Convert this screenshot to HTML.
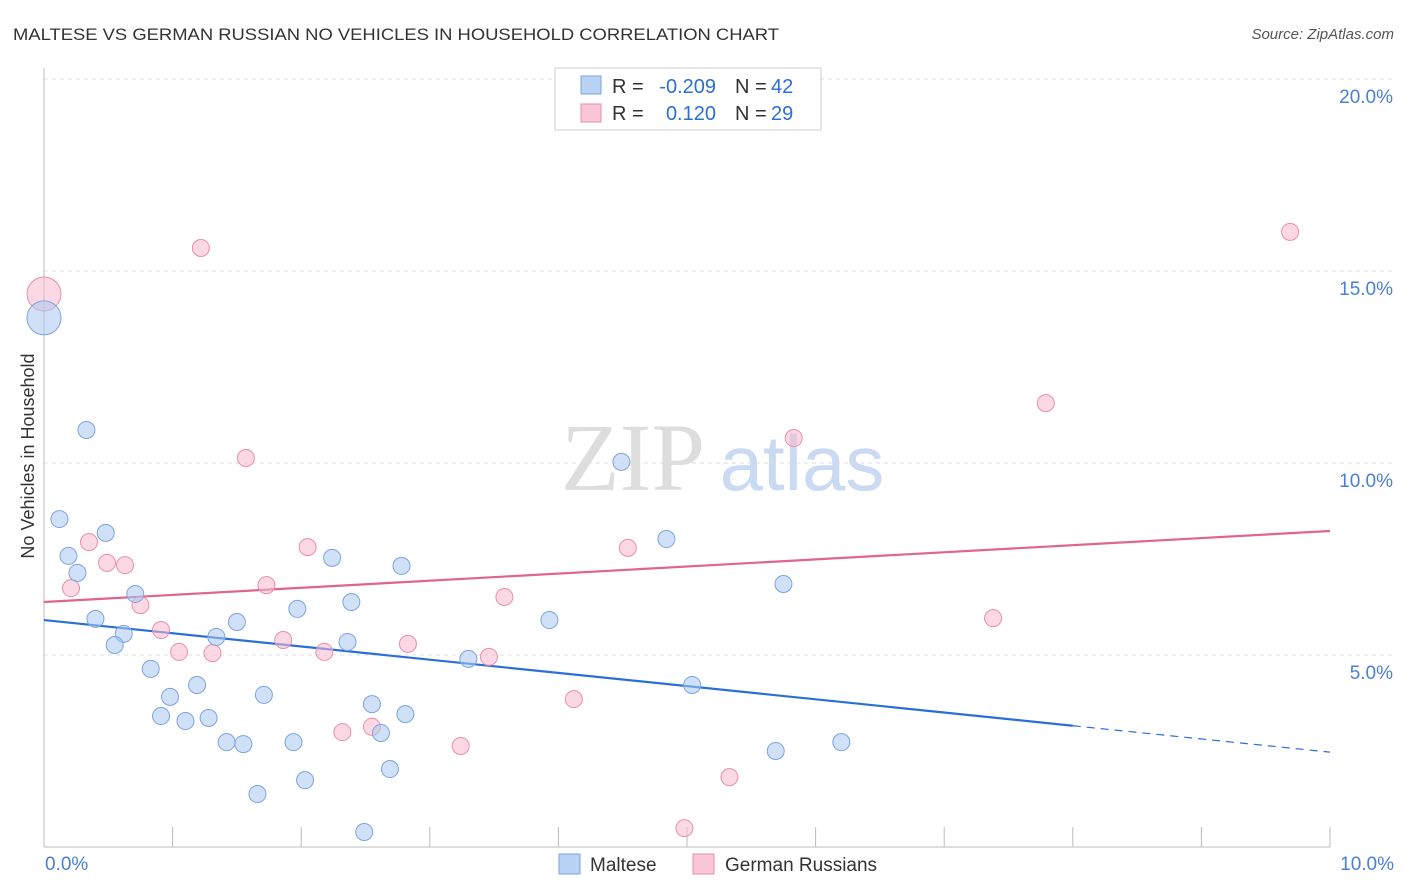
<!DOCTYPE html>
<html><head><meta charset="utf-8"><style>
body{margin:0;background:#fff;font-family:"Liberation Sans",sans-serif;}
svg{display:block}
</style></head><body>
<svg width="1406" height="892" viewBox="0 0 1406 892" xmlns="http://www.w3.org/2000/svg" font-family="Liberation Sans, sans-serif">
<text x="13" y="40" font-size="17" fill="#333" textLength="766" lengthAdjust="spacingAndGlyphs">MALTESE VS GERMAN RUSSIAN NO VEHICLES IN HOUSEHOLD CORRELATION CHART</text>
<text x="1394" y="39" font-size="15" fill="#555" text-anchor="end" font-style="italic">Source: ZipAtlas.com</text>
<g>
<text x="633" y="490" font-size="96" fill="#ddd" text-anchor="middle" font-family="Liberation Serif, serif">ZIP</text>
<text x="802" y="490" font-size="78" fill="#c9daf2" text-anchor="middle">atlas</text>
</g>
<g id="grid"></g>
<g id="axes"></g>
<g id="lines"></g>
<g id="points"></g>
<text transform="translate(34,456) rotate(-90)" font-size="18" fill="#333" text-anchor="middle">No Vehicles in Household</text>
<g font-size="20">
<rect x="555" y="68" width="266" height="62" fill="#fff" stroke="#ccc"/>
<rect x="581" y="76" width="20" height="18" fill="#b9d3f5" stroke="#7ba4e0"/>
<rect x="581" y="104" width="20" height="18" fill="#f9c6d5" stroke="#e88fab"/>
<text x="612" y="93" fill="#333">R =</text>
<text x="716" y="93" fill="#2a6fd6" text-anchor="end">-0.209</text>
<text x="735" y="93" fill="#333">N =</text>
<text x="771" y="93" fill="#2a6fd6">42</text>
<text x="612" y="120" fill="#333">R =</text>
<text x="716" y="120" fill="#2a6fd6" text-anchor="end">0.120</text>
<text x="735" y="120" fill="#333">N =</text>
<text x="771" y="120" fill="#2a6fd6">29</text>
</g>
<g>
<rect x="559" y="854" width="21" height="20" fill="#b9d3f5" stroke="#7ba4e0"/>
<text x="590" y="871" font-size="19" fill="#333">Maltese</text>
<rect x="693" y="854" width="21" height="20" fill="#f9c6d5" stroke="#e88fab"/>
<text x="725" y="871" font-size="19" fill="#333">German Russians</text>
</g>
</svg>
<script>
const xTicks=[0,1,2,3,4,5,6,7,8,9,10];
const yTicks=[5,10,15,20];
const maltX=[0,0.33,0.12,0.19,0.26,0.48,0.40,0.62,0.55,0.71,0.83,0.98,0.91,1.10,1.19,1.28,1.34,1.50,1.42,1.55,1.66,1.71,1.94,1.97,2.03,2.24,2.39,2.36,2.55,2.62,2.69,2.78,2.81,2.49,3.30,3.93,4.49,4.84,5.04,5.69,5.75,6.20];
const maltY=[13.78,10.86,8.54,7.58,7.14,8.18,5.94,5.55,5.26,6.59,4.64,3.91,3.41,3.28,4.22,3.36,5.47,5.86,2.73,2.68,1.38,3.96,2.73,6.20,1.74,7.53,6.38,5.34,3.72,2.97,2.03,7.32,3.46,0.39,4.90,5.91,10.03,8.02,4.22,2.50,6.85,2.73];
const grX=[0,1.22,0.21,0.35,0.49,0.63,0.75,0.91,1.05,1.31,1.57,1.73,1.86,2.05,2.18,2.32,2.55,2.83,3.24,3.46,3.58,4.12,4.54,4.98,5.33,5.83,7.38,7.79,9.69];
const grY=[14.40,15.60,6.74,7.94,7.40,7.34,6.30,5.65,5.08,5.05,10.13,6.82,5.39,7.81,5.08,2.99,3.13,5.29,2.63,4.95,6.51,3.85,7.79,0.49,1.82,10.65,5.96,11.56,16.02];
const maltBig=[0];const grBig=[0];
const maltTrend=[5.91,2.47];const grTrend=[6.38,8.23];
const NS='http://www.w3.org/2000/svg';
const X=v=>44+v*128.6, Y=v=>847-v*38.4;
function mk(t,a,p){const e=document.createElementNS(NS,t);for(const k in a)e.setAttribute(k,a[k]);document.getElementById(p).appendChild(e);return e;}
yTicks.forEach(t=>{
 const g=mk('line',{x1:44,x2:1393,y1:Y(t),y2:Y(t),stroke:'#ddd','stroke-dasharray':'4,4'},'grid');
 
 
 const l=mk('text',{x:1393,y:Y(t)+24,'font-size':19,fill:'#4a7fd4','text-anchor':'end'},'grid');
 l.textContent=t.toFixed(1)+'%';
 
 
});
const ax=mk('line',{x1:44,x2:44,y1:68,y2:847,stroke:'#bbb'},'axes');


const bx=mk('line',{x1:44,x2:1330,y1:847,y2:847,stroke:'#bbb'},'axes');


xTicks.forEach(t=>{
 const k=mk('line',{x1:X(t),x2:X(t),y1:827,y2:847,stroke:'#bbb'},'axes');
 
 
});
[[0,'start',45],[10,'end',1394]].forEach(([v,a,x])=>{
 const l=mk('text',{x:x,y:870,'font-size':19,fill:'#4a7fd4','text-anchor':a},'axes');
 l.textContent=v.toFixed(1)+'%';
 
 
});
function pts(xs,ys,big,fill,stroke,name){
 xs.forEach((v,i)=>{
  const c=mk('circle',{cx:X(v),cy:Y(ys[i]),r:big.includes(i)?17:8.5,fill:fill,'fill-opacity':0.55,stroke:stroke,'stroke-width':1},'points');
  
  
 });
}
pts(grX,grY,grBig,'#f7b8cc','#e88fab','german-russian-point');
pts(maltX,maltY,maltBig,'#a9c8f0','#7ba4e0','maltese-point');
const m=(maltTrend[1]-maltTrend[0])/10;
const l1=mk('line',{x1:X(0),y1:Y(maltTrend[0]),x2:X(8),y2:Y(maltTrend[0]+m*8),stroke:'#2a6fd6','stroke-width':2.2},'lines');


const l2=mk('line',{x1:X(8),y1:Y(maltTrend[0]+m*8),x2:X(10),y2:Y(maltTrend[1]),stroke:'#2a6fd6','stroke-width':1.2,'stroke-dasharray':'8,6'},'lines');


const l3=mk('line',{x1:X(0),y1:Y(grTrend[0]),x2:X(10),y2:Y(grTrend[1]),stroke:'#e0648f','stroke-width':2.2},'lines');


</script>
</body></html>
